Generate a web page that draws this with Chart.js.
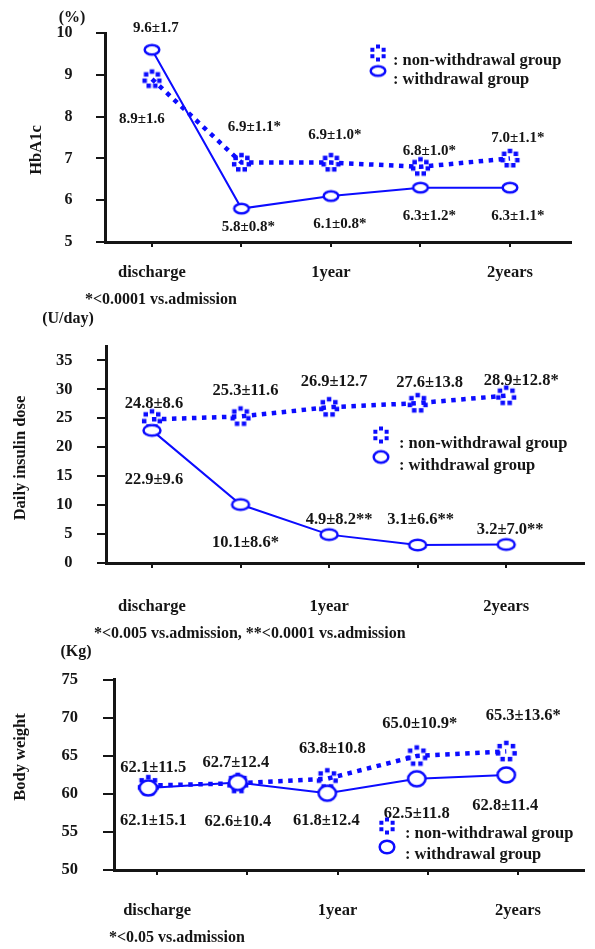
<!DOCTYPE html>
<html><head><meta charset="utf-8">
<script src="https://cdn.jsdelivr.net/npm/chart.js@4.4.0/dist/chart.umd.min.js"></script>
<style>
html,body{margin:0;padding:0;background:#fff;}
#wrap{position:relative;width:595px;height:949px;overflow:hidden;}
canvas{position:absolute;left:0;}
</style></head><body>
<div id="wrap">
<canvas id="c1" width="595" height="312" style="top:0px"></canvas>
<canvas id="c2" width="595" height="333" style="top:312px"></canvas>
<canvas id="c3" width="595" height="304" style="top:645px"></canvas>
</div>
<script>
// ---------- DATA ----------
const categories = ['discharge', '', '1year', '', '2years'];
const seriesNames = ['withdrawal group', 'non-withdrawal group'];

// HbA1c (%)
const hba1cTicks = [5, 6, 7, 8, 9, 10];
const hba1cWithdrawal = [9.6, 5.8, 6.1, 6.3, 6.3];
const hba1cNonWithdrawal = [8.9, 6.9, 6.9, 6.8, 7.0];
const hba1cWithdrawalText = ['9.6±1.7', '5.8±0.8*', '6.1±0.8*', '6.3±1.2*', '6.3±1.1*'];
const hba1cNonWithdrawalText = ['8.9±1.6', '6.9±1.1*', '6.9±1.0*', '6.8±1.0*', '7.0±1.1*'];

// Daily insulin dose (U/day)
const insulinTicks = [0, 5, 10, 15, 20, 25, 30, 35];
const insulinWithdrawal = [22.9, 10.1, 4.9, 3.1, 3.2];
const insulinNonWithdrawal = [24.8, 25.3, 26.9, 27.6, 28.9];
const insulinWithdrawalText = ['22.9±9.6', '10.1±8.6*', '4.9±8.2**', '3.1±6.6**', '3.2±7.0**'];
const insulinNonWithdrawalText = ['24.8±8.6', '25.3±11.6', '26.9±12.7', '27.6±13.8', '28.9±12.8*'];

// Body weight (Kg) - plotted positions as drawn
const weightTicks = [50, 55, 60, 65, 70, 75];
const weightWithdrawal = [60.8, 61.5, 60.1, 62.0, 62.5];
const weightNonWithdrawal = [61.1, 61.4, 62.0, 65.0, 65.6];
const weightWithdrawalText = ['62.1±15.1', '62.6±10.4', '61.8±12.4', '62.5±11.8', '62.8±11.4'];
const weightNonWithdrawalText = ['62.1±11.5', '62.7±12.4', '63.8±10.8', '65.0±10.9*', '65.3±13.6*'];

// ---------- STYLE HELPERS ----------
const FONT = '"Liberation Serif", "Times New Roman", serif';
const BLUE = '#0c0cff';
const INK = '#151515';

function ringMarker(rx, ry, lw) {
  const w = Math.ceil(2 * rx + lw + 2), h = Math.ceil(2 * ry + lw + 2);
  const c = document.createElement('canvas'); c.width = w; c.height = h;
  const g = c.getContext('2d');
  g.beginPath(); g.ellipse(w / 2, h / 2, rx, ry, 0, 0, Math.PI * 2);
  g.fillStyle = '#fff'; g.fill(); g.lineWidth = lw; g.strokeStyle = BLUE; g.stroke();
  return c;
}
function dotMarker(r, d, n) {
  const s = Math.ceil(2 * r + d + 3);
  const c = document.createElement('canvas'); c.width = s; c.height = s;
  const g = c.getContext('2d'); g.fillStyle = BLUE;
  for (let k = 0; k < n; k++) {
    const a = -Math.PI / 2 + k * 2 * Math.PI / n;
    const x = s / 2 + r * Math.cos(a), y = s / 2 + r * Math.sin(a);
    g.fillRect(x - d / 2, y - d / 2, d, d);
  }
  return c;
}

const textPlugin = {
  id: 'texts',
  afterDraw(chart, args, o) {
    const ctx = chart.ctx;
    ctx.save();
    ctx.fillStyle = INK;
    ctx.textBaseline = 'middle';
    // unit
    ctx.font = `bold ${o.unitSize}px ${FONT}`;
    ctx.textAlign = 'center';
    ctx.fillText(o.unit, o.unitPos[0], o.unitPos[1]);
    // axis title
    ctx.save();
    ctx.translate(o.titlePos[0], o.titlePos[1]);
    ctx.rotate(-Math.PI / 2);
    ctx.font = `bold ${o.titleSize}px ${FONT}`;
    ctx.fillText(o.title, 0, 0);
    ctx.restore();
    // footnote
    ctx.font = `bold 16px ${FONT}`;
    ctx.textAlign = 'left';
    ctx.fillText(o.footnote, o.footPos[0], o.footPos[1]);
    // data labels
    ctx.font = `bold ${o.labelSize}px ${FONT}`;
    ctx.textAlign = 'center';
    chart.data.datasets.forEach((ds, di) => {
      const meta = chart.getDatasetMeta(di);
      meta.data.forEach((pt, j) => {
        const off = o.labelOffsets[di][j];
        ctx.fillText(o.labels[di][j], pt.x + off[0], pt.y + off[1]);
      });
    });
    // legend
    const L = o.legend;
    const dm = L.dotImg, rm = L.ringImg;
    ctx.drawImage(dm, L.x - dm.width / 2, L.dotY - dm.height / 2);
    ctx.drawImage(rm, L.x - rm.width / 2, L.ringY - rm.height / 2);
    ctx.font = `bold 16.5px ${FONT}`;
    ctx.textAlign = 'left';
    ctx.fillText(': non-withdrawal group', L.textX, L.t1);
    ctx.fillText(': withdrawal group', L.textX, L.t2);
    ctx.restore();
  }
};

function makePanel(p) {
  const font = (s) => ({ family: FONT, size: s, weight: 'bold' });
  const scales = {
    x: {
      type: 'linear', position: 'bottom', min: p.xMin, max: p.xMax,
      afterBuildTicks: s => { s.ticks = categories.map((c, i) => ({ value: i })); },
      afterFit: s => { s.height = p.xH; },
      ticks: { callback: v => categories[v], font: font(16.5), color: INK, padding: p.xPad, maxRotation: 0, autoSkip: false },
      grid: { display: true, drawOnChartArea: false, drawTicks: true, tickLength: 5, tickWidth: 2, tickColor: INK, lineWidth: 0 },
      border: { display: true, width: 3, color: INK }
    },
    y: {
      type: 'linear', position: 'left', min: p.yMin, max: p.yMax,
      afterBuildTicks: s => { s.ticks = p.yTicks.map(v => ({ value: v })); },
      afterFit: s => { s.width = p.yW; },
      ticks: { font: font(p.tickSize), color: INK, padding: p.yPad },
      grid: { display: true, drawOnChartArea: false, drawTicks: true, tickLength: p.yTL, tickWidth: 2, tickColor: INK, lineWidth: 0 },
      border: { display: true, width: 3, color: INK }
    }
  };
  let dataAxis = 'x';
  if (p.xdMin !== undefined) {
    scales.xd = { type: 'linear', position: 'bottom', display: false, min: p.xdMin, max: p.xdMax };
    dataAxis = 'xd';
  }
  const ringImg = ringMarker(p.ring[0], p.ring[1], 2.5);
  const dotImg = dotMarker(p.dot[0], p.dot[1], 7);
  new Chart(document.getElementById(p.id), {
    type: 'line',
    data: {
      datasets: [
        {
          label: seriesNames[0], xAxisID: dataAxis, yAxisID: 'y',
          data: p.withdrawal.map((v, i) => ({ x: i, y: v })),
          borderColor: BLUE, borderWidth: 2, pointStyle: ringImg, pointRadius: 6, fill: false, tension: 0
        },
        {
          label: seriesNames[1], xAxisID: dataAxis, yAxisID: 'y',
          data: p.non.map((v, i) => ({ x: i, y: v })),
          borderColor: BLUE, borderWidth: 4.5, borderDash: [4.5, 5.5], borderCapStyle: 'butt',
          pointStyle: dotImg, pointRadius: 6, fill: false, tension: 0
        }
      ]
    },
    options: {
      responsive: false, animation: false, devicePixelRatio: 1,
      layout: { padding: { left: 0, top: p.padTop, right: p.padRight, bottom: 0 } },
      scales,
      plugins: {
        legend: { display: false }, tooltip: { enabled: false },
        texts: {
          unit: p.unit, unitPos: p.unitPos, unitSize: 16,
          title: p.title, titlePos: p.titlePos, titleSize: 16.5,
          footnote: p.footnote, footPos: p.footPos,
          labels: p.labels, labelOffsets: p.labelOffsets, labelSize: p.labelSize,
          legend: Object.assign({ ringImg: ringMarker(p.legRing[0], p.legRing[1], 2.5), dotImg: dotMarker(6.5, 4, 6) }, p.legend)
        }
      }
    },
    plugins: [textPlugin]
  });
}

makePanel({
  id: 'c1', yTicks: hba1cTicks, yMin: 5, yMax: 10, yW: 105, yTL: 9, yPad: 23.5, tickSize: 16,
  xMin: -0.525, xMax: 4.693, xH: 70, xPad: 16, padTop: 31, padRight: 23,
  withdrawal: hba1cWithdrawal, non: hba1cNonWithdrawal,
  ring: [7.3, 4.8], dot: [7.5, 4.5], legRing: [7.3, 4.8],
  labels: [hba1cWithdrawalText, hba1cNonWithdrawalText], labelSize: 15,
  labelOffsets: [
    [[4, -22], [7, 19], [9, 28], [9, 28], [8, 28]],
    [[-10, 40], [13, -35], [4, -27], [9, -16], [8, -20]]
  ],
  unit: '(%)', unitPos: [72, 18], title: 'HbA1c', titlePos: [37, 150],
  footnote: '*<0.0001 vs.admission', footPos: [85, 300],
  legend: { x: 378, dotY: 53, ringY: 71, textX: 393, t1: 61, t2: 80 }
});

makePanel({
  id: 'c2', yTicks: insulinTicks, yMin: 0, yMax: 37.4, yW: 106, yTL: 9, yPad: 24.5, tickSize: 16.5,
  xMin: -0.519, xMax: 4.884, xH: 82, xPad: 29, padTop: 16, padRight: 0,
  withdrawal: insulinWithdrawal, non: insulinNonWithdrawal,
  ring: [8.5, 5.3], dot: [8, 4.5], legRing: [7.3, 5.8],
  labels: [insulinWithdrawalText, insulinNonWithdrawalText], labelSize: 16.5,
  labelOffsets: [
    [[2, 49], [5, 38], [10, -15], [3, -25], [4, -15]],
    [[2, -16], [5, -26], [5, -25], [12, -20], [15, -15]]
  ],
  unit: '(U/day)', unitPos: [68, 7], title: 'Daily insulin dose', titlePos: [21, 146],
  footnote: '*<0.005 vs.admission, **<0.0001 vs.admission', footPos: [94, 322],
  legend: { x: 381, dotY: 123, ringY: 145, textX: 399, t1: 132, t2: 154 }
});

makePanel({
  id: 'c3', yTicks: weightTicks, yMin: 50, yMax: 75, yW: 114, yTL: 11, yPad: 25, tickSize: 16.5,
  xMin: -0.477, xMax: 4.737, xdMin: -0.383, xdMax: 4.874, xH: 79, xPad: 26, padTop: 23, padRight: 0,
  withdrawal: weightWithdrawal, non: weightNonWithdrawal,
  ring: [8.7, 7.5], dot: [8.5, 4.5], legRing: [7.3, 6.3],
  labels: [weightWithdrawalText, weightNonWithdrawalText], labelSize: 16.5,
  labelOffsets: [
    [[5, 33], [0, 39], [-1, 28], [0, 35], [-1, 31]],
    [[5, -18], [-2, -21], [5, -30], [3, -32], [17, -36]]
  ],
  unit: '(Kg)', unitPos: [76, 7], title: 'Body weight', titlePos: [21, 112],
  footnote: '*<0.05 vs.admission', footPos: [109, 293],
  legend: { x: 387, dotY: 181, ringY: 202, textX: 405, t1: 189, t2: 210 }
});
</script>
</body></html>
